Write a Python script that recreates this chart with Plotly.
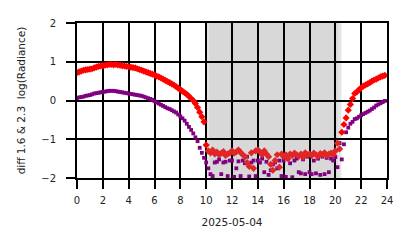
import plotly.graph_objects as go

# 10-minute samples starting 2025-05-04 00:00
n_points = 144
hours = [i / 6 for i in range(n_points)]

red_diff = [
    0.72, 0.74, 0.76, 0.78, 0.79, 0.80,
    0.81, 0.82, 0.84, 0.86, 0.88, 0.89,
    0.90, 0.91, 0.92, 0.93, 0.93, 0.92,
    0.93, 0.92, 0.91, 0.90, 0.89, 0.88,
    0.87, 0.86, 0.85, 0.84, 0.82, 0.80,
    0.78, 0.76, 0.74, 0.72, 0.70, 0.68,
    0.66, 0.63, 0.61, 0.58, 0.55, 0.52,
    0.49, 0.46, 0.43, 0.40, 0.36, 0.32,
    0.28, 0.24, 0.20, 0.16, 0.11, 0.05,
    0.00, -0.08, -0.18, -0.30, -0.42, -0.55,
    -1.15, -1.30, -1.35, -1.28, -1.38, -1.33,
    -1.40, -1.36, -1.32, -1.42, -1.38, -1.35,
    -1.30, -1.36, -1.33, -1.28, -1.34, -1.40,
    -1.45, -1.60, -1.70, -1.35, -1.75, -1.30,
    -1.28, -1.33, -1.40, -1.30, -1.38, -1.45,
    -1.65, -1.80, -1.55, -1.40, -1.72, -1.38,
    -1.45, -1.40, -1.50, -1.38, -1.42, -1.36,
    -1.40, -1.44, -1.38, -1.46, -1.35, -1.40,
    -1.38, -1.42, -1.36, -1.40, -1.44, -1.37,
    -1.40, -1.35, -1.42, -1.38, -1.36, -1.40,
    -1.30, -1.10, -1.25,
    -0.82, -0.62, -0.45, -0.25, -0.10, 0.05,
    0.18, 0.22, 0.28, 0.33, 0.37, 0.40,
    0.43, 0.46, 0.50, 0.53, 0.55, 0.58,
    0.61, 0.63, 0.65,
]

purple_diff = [
    0.06, 0.08, 0.09, 0.10, 0.12, 0.13,
    0.14, 0.16, 0.18, 0.19, 0.20, 0.21,
    0.22, 0.23, 0.24, 0.25, 0.25, 0.25,
    0.24, 0.23, 0.22, 0.21, 0.20, 0.19,
    0.18, 0.17, 0.16, 0.15, 0.14, 0.13,
    0.12, 0.10, 0.08, 0.06, 0.04, 0.02,
    -0.02, -0.05, -0.08, -0.11, -0.14, -0.17,
    -0.20, -0.22, -0.25, -0.28, -0.31, -0.36,
    -0.41, -0.46, -0.52, -0.60, -0.68, -0.76,
    -0.85, -0.95, -1.05, -1.22, -1.35, -1.48,
    -1.60, -1.75, -1.90, -1.95, -1.60, -1.58,
    -1.52, -1.90, -1.60, -1.58, -1.95, -1.55,
    -1.55, -1.97, -1.75, -1.57, -1.95, -1.55,
    -1.62, -1.45, -1.96, -1.60, -1.55, -1.95,
    -1.55, -1.60, -1.50, -1.85, -1.58, -1.92,
    -1.80, -1.65, -1.60, -1.75, -1.55, -1.95,
    -1.55, -1.97, -1.50, -1.62, -1.98, -1.55,
    -1.50, -1.85, -1.88, -1.52, -1.90, -1.45,
    -1.85, -1.90, -1.55, -1.88, -1.50, -1.92,
    -1.45, -1.90, -1.48, -1.85, -1.50, -1.55,
    -1.46, -1.72, -1.10,
    -1.52, -1.13, -0.82, -0.70, -0.60, -0.55,
    -0.48, -0.46, -0.42, -0.38, -0.35, -0.32,
    -0.29, -0.26, -0.22, -0.18, -0.13, -0.10,
    -0.07, -0.04, -0.01,
]

night_start, night_end = 10.05, 20.47
x_ticks = list(range(0, 25, 2))
y_ticks = [-2, -1, 0, 1, 2]
date_label = "2025-05-04"
y_title = "diff 1.6 &amp; 2.3  log(Radiance)"

red_colors = ["#e02626" if night_start <= h <= night_end else "#ff0000" for h in hours]

fig = go.Figure()
fig.add_trace(go.Scatter(
    x=hours, y=purple_diff, mode="markers",
    marker=dict(symbol="square", size=3.8, color="#800080", line=dict(width=0)),
    showlegend=False, cliponaxis=True,
))
fig.add_trace(go.Scatter(
    x=hours, y=red_diff, mode="markers",
    marker=dict(symbol="diamond", size=5.5, color=red_colors, line=dict(width=0)),
    showlegend=False, cliponaxis=True,
))

fig.add_shape(type="rect", xref="x", yref="y", x0=night_start, x1=night_end, y0=-2, y1=2,
              fillcolor="#e4e4e4", line=dict(width=0), layer="below")
fig.add_shape(type="rect", xref="x", yref="y", x0=10.25, x1=20.18, y0=-2, y1=2,
              fillcolor="#d8d8d8", line=dict(width=0), layer="below")

font = dict(family="DejaVu Sans", size=10, color="#222222")
fig.update_layout(
    width=414, height=248,
    margin=dict(l=69, r=35, t=15, b=78, autoexpand=False),
    paper_bgcolor="white", plot_bgcolor="white",
    font=font,
    xaxis=dict(
        range=[0, 24], tickvals=x_ticks, ticktext=[str(t) for t in x_ticks],
        showgrid=True, gridcolor="black", gridwidth=2,
        ticks="outside", ticklen=9, tickwidth=2, tickcolor="black",
        showline=True, linecolor="black", linewidth=2, mirror=True,
        zeroline=False, tickfont=dict(size=10), ticklabelstandoff=3,
        title=dict(text=date_label, font=dict(size=10.5), standoff=14),
        automargin=False,
    ),
    yaxis=dict(
        range=[-2, 2], tickvals=y_ticks,
        showgrid=True, gridcolor="black", gridwidth=2,
        ticks="outside", ticklen=9, tickwidth=2, tickcolor="black",
        showline=True, linecolor="black", linewidth=2, mirror=True,
        zeroline=False, tickfont=dict(size=10), ticklabelstandoff=8,
        title=dict(text=y_title, font=dict(size=10.5), standoff=14),
        automargin=False,
    ),
)

fig.write_html("out.html")
